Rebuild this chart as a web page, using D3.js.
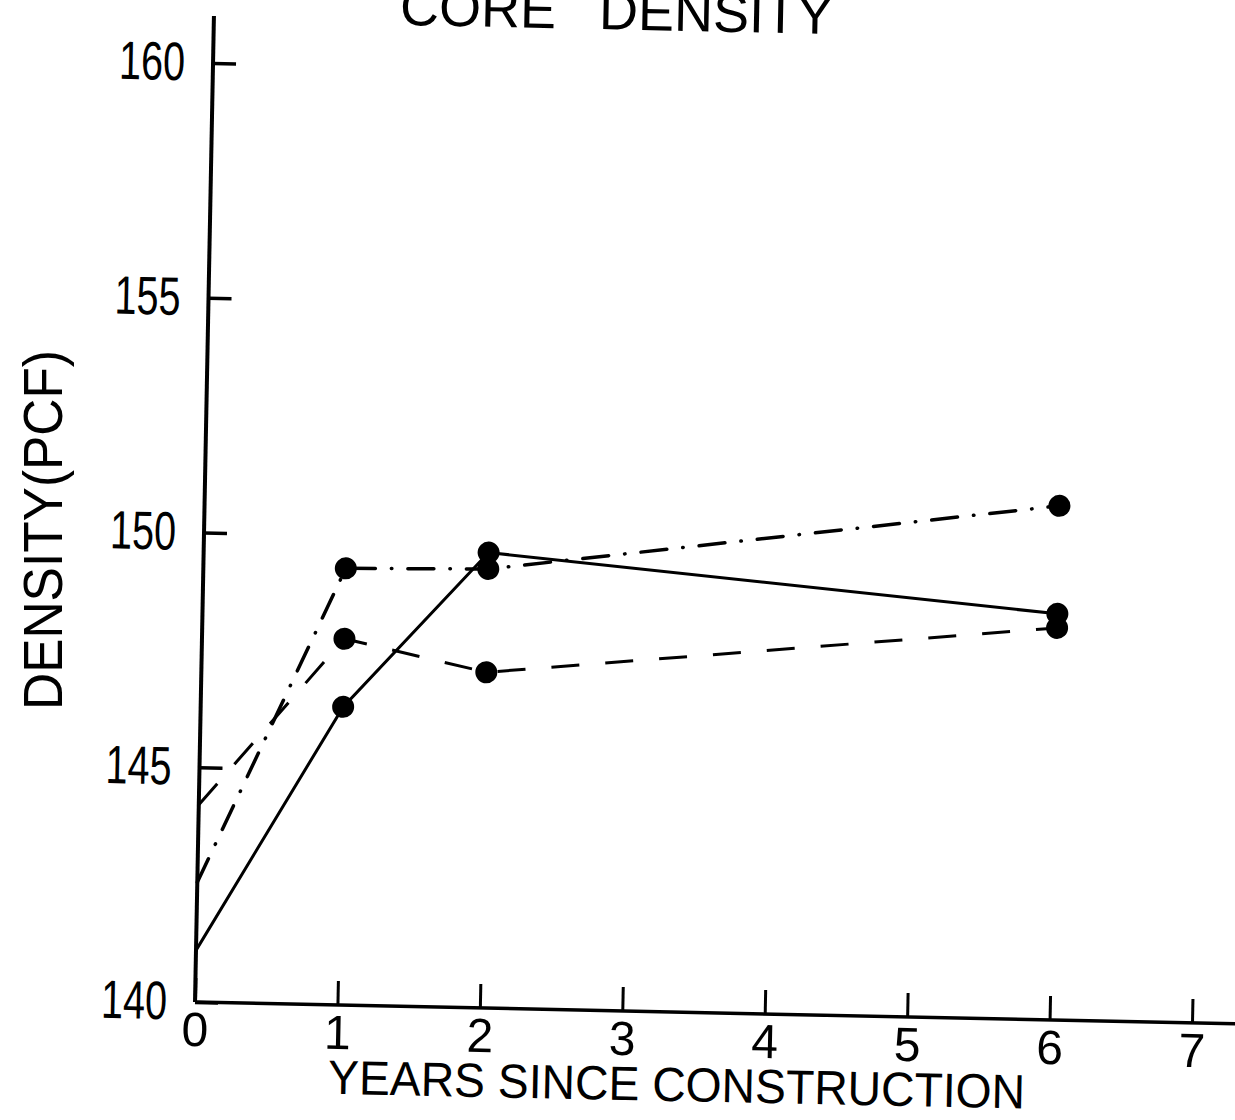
<!DOCTYPE html>
<html>
<head>
<meta charset="utf-8">
<script src="https://cdn.jsdelivr.net/npm/d3@7"></script>
<style>
  html, body { margin: 0; padding: 0; background: #fff; }
  svg { display: block; }
  text { font-family: "Liberation Sans", Arial, sans-serif; fill: #000; }
</style>
</head>
<body>
<svg id="chart" width="1235" height="1120"></svg>
<script>
// Core density measurements by years since construction
const years = [0, 1, 2, 6];
const solidDensity = [141.1, 146.35, 149.7, 148.65];
const dashedDensity = [144.2, 147.8, 147.15, 148.35];
const dashDotDensity = [142.55, 149.3, 149.35, 150.95];

const xTicks = [0, 1, 2, 3, 4, 5, 6, 7];
const yTicks = [140, 145, 150, 155, 160];

const svg = d3.select("#chart");

// Plot frame: the hand-drawn sheet sits slightly askew, so the plot
// group is drawn through a small affine tilt around its origin corner.
const origin = { x: 195, y: 1002 };
const tiltX = 0.021;    // drop of the x axis per px to the right
const tiltY = -0.0192;  // lean of the y axis per px downward

const x = d3.scaleLinear().domain([0, 7]).range([0, 997]);
const y = d3.scaleLinear().domain([140, 160]).range([0, -939]);

const g = svg.append("g")
  .attr("transform", `matrix(1,${tiltX},${tiltY},1,${origin.x},${origin.y})`);

// Axis lines
g.append("line")
  .attr("x1", x(0)).attr("y1", y(140))
  .attr("x2", x(0)).attr("y2", y(161))
  .attr("stroke", "#000").attr("stroke-width", 4);
g.append("line")
  .attr("x1", x(0)).attr("y1", y(140))
  .attr("x2", x(7.4)).attr("y2", y(140))
  .attr("stroke", "#000").attr("stroke-width", 3.5);

// Y axis: ticks point into the plot, labels to the left
const yAxis = g.append("g")
  .call(d3.axisLeft(y).tickValues(yTicks).tickFormat(d3.format("d"))
    .tickSizeInner(-23).tickSizeOuter(0).tickPadding(28));
yAxis.select(".domain").remove();
yAxis.selectAll(".tick line").attr("stroke", "#000").attr("stroke-width", 3.5);
yAxis.selectAll(".tick text")
  .attr("font-size", 54)
  .attr("textLength", 66)
  .attr("lengthAdjust", "spacingAndGlyphs")
  .style("font-family", "'Liberation Sans', Arial, sans-serif");

// X axis: ticks point up into the plot, labels below
const xAxis = g.append("g")
  .call(d3.axisBottom(x).tickValues(xTicks).tickFormat(d3.format("d"))
    .tickSizeInner(-24).tickSizeOuter(0).tickPadding(10));
xAxis.select(".domain").remove();
xAxis.selectAll(".tick line").attr("stroke", "#000").attr("stroke-width", 3);
xAxis.selectAll(".tick text")
  .attr("font-size", 48)
  .style("font-family", "'Liberation Sans', Arial, sans-serif");

// Axis titles
g.append("text")
  .attr("x", 483).attr("y", 89)
  .attr("text-anchor", "middle")
  .attr("font-size", 48)
  .attr("textLength", 697)
  .attr("lengthAdjust", "spacingAndGlyphs")
  .text("YEARS SINCE CONSTRUCTION");

g.append("text")
  .attr("x", 186).attr("y", -981)
  .attr("font-size", 54)
  .attr("word-spacing", 28)
  .text("CORE DENSITY");

svg.append("text")
  .attr("transform", "translate(62,530) rotate(-90)")
  .attr("text-anchor", "middle")
  .attr("font-size", 56)
  .attr("textLength", 360)
  .attr("lengthAdjust", "spacingAndGlyphs")
  .text("DENSITY(PCF)");

// Series
const series = [
  { values: solidDensity, dash: null, cap: "butt", width: 3 },
  { values: dashedDensity, dash: "28,26", cap: "butt", width: 3 },
  { values: dashDotDensity, dash: "26,16,0.5,16", cap: "round", width: 3.5 }
];

const line = d3.line()
  .x(d => x(d.year))
  .y(d => y(d.value));

series.forEach(s => {
  const pts = years.map((yr, i) => ({ year: yr, value: s.values[i] }));
  g.append("path")
    .datum(pts)
    .attr("d", line)
    .attr("fill", "none")
    .attr("stroke", "#000")
    .attr("stroke-width", s.width)
    .attr("stroke-linecap", s.cap)
    .attr("stroke-dasharray", s.dash);
  g.selectAll(null)
    .data(pts.filter(p => p.year > 0))
    .enter().append("circle")
    .attr("cx", d => x(d.year))
    .attr("cy", d => y(d.value))
    .attr("r", 11)
    .attr("fill", "#000");
});
</script>
</body>
</html>
